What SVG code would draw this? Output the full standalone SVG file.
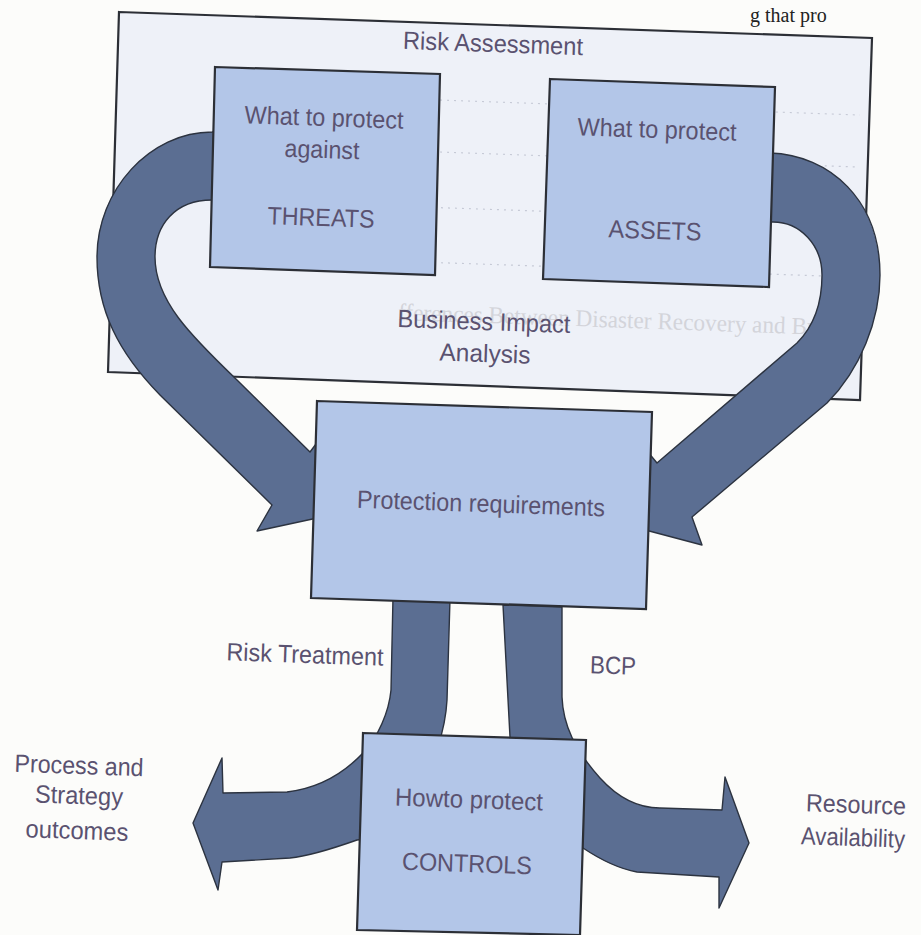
<svg xmlns="http://www.w3.org/2000/svg" width="921" height="935" viewBox="0 0 921 935">
  <style>
    .page { fill: #fcfcfa; }
    .outer { fill: #eef1f8; stroke: #2c2f36; stroke-width: 2.2; }
    .box { fill: #b3c6e8; stroke: #2c2f36; stroke-width: 2.2; }
    .band { fill: #5b6e92; stroke: #2c3340; stroke-width: 1.4; stroke-linejoin: round; }
    .t { font-family: "Liberation Sans", Arial, sans-serif; font-size: 25px; fill: #5a5270; text-anchor: middle; }
    .ghost { font-family: "Liberation Serif", "Times New Roman", serif; font-size: 24px; fill: #d3d4da; }
    .print { font-family: "Liberation Serif", "Times New Roman", serif; font-size: 20px; fill: #222; }
    .dots { stroke: #c6cad6; stroke-width: 1.2; stroke-dasharray: 2 5; fill: none; }
  </style>

  <rect class="page" x="0" y="0" width="921" height="935"/>
  <text class="print" x="750" y="22">g that pro</text>

  <g id="node-risk-assessment">
    <polygon class="outer" points="119,12 872,38 860,400 108,372"/>
    <g>
      <line class="dots" x1="440" y1="100" x2="860" y2="115"/>
      <line class="dots" x1="440" y1="152" x2="858" y2="167"/>
      <line class="dots" x1="420" y1="207" x2="856" y2="222"/>
      <line class="dots" x1="420" y1="262" x2="854" y2="277"/>
    </g>
    <text class="ghost" x="398" y="328" textLength="467" lengthAdjust="spacingAndGlyphs" transform="rotate(2 630 322)">fferences Between Disaster Recovery and Busines</text>
    <text class="t" x="493" y="52" textLength="180" lengthAdjust="spacingAndGlyphs" transform="rotate(2 493 45)">Risk Assessment</text>
    <text class="t" x="484" y="330" textLength="173" lengthAdjust="spacingAndGlyphs" transform="rotate(2 484 322)">Business Impact</text>
    <text class="t" x="485" y="362" textLength="91" lengthAdjust="spacingAndGlyphs" transform="rotate(2 485 355)">Analysis</text>
  </g>

  <g id="connectors">
    <path id="arrow-threats" class="band" d="M 232,131 L 212,132 C 150,132 97,190 97,257 C 97,310 118,352 160,395 L 272,505 L 257,531 L 345,512 L 328,428 L 310,452 L 237,380 C 190,335 155,300 155,257 C 155,225 175,200 212,200 L 232,200 Z"/>
    <path id="arrow-assets" class="band" d="M 752,153 L 770,153 C 830,155 880,200 880,275 C 880,320 860,370 827,403 L 692,517 L 702,545 L 619,523 L 638,440 L 657,463 L 797,343 C 815,325 822,300 822,275 C 822,245 800,222 773,222 L 752,222 Z"/>
    <path id="arrow-risk-treatment" class="band" d="M 393,597 L 450,599 L 447,700 C 444,760 400,840 357,840 C 340,846 310,856 290,858 L 222,862 L 218,890 L 193,823 L 222,758 L 223,793 L 287,792 C 320,788 345,772 363,753 C 378,737 389,712 391,690 Z"/>
    <path id="arrow-bcp" class="band" d="M 503,605 L 562,607 L 562,697 C 563,725 575,750 600,778 C 620,800 640,808 660,808 L 722,810 L 725,777 L 749,843 L 719,908 L 719,877 L 637,872 C 615,868 598,858 583,848 C 560,835 512,800 510,737 Z"/>
    <text class="t" x="305" y="663" textLength="157" lengthAdjust="spacingAndGlyphs" transform="rotate(2 305 655)">Risk Treatment</text>
    <text class="t" x="613" y="674" textLength="46" lengthAdjust="spacingAndGlyphs" transform="rotate(2 613 666)">BCP</text>
    <text class="t" x="79" y="774" textLength="129" lengthAdjust="spacingAndGlyphs" transform="rotate(2 79 766)">Process and</text>
    <text class="t" x="79" y="804" textLength="88" lengthAdjust="spacingAndGlyphs" transform="rotate(2 79 796)">Strategy</text>
    <text class="t" x="77" y="839" textLength="103" lengthAdjust="spacingAndGlyphs" transform="rotate(2 77 831)">outcomes</text>
    <text class="t" x="856" y="813" textLength="100" lengthAdjust="spacingAndGlyphs" transform="rotate(2 856 805)">Resource</text>
    <text class="t" x="853" y="846" textLength="104" lengthAdjust="spacingAndGlyphs" transform="rotate(2 853 838)">Availability</text>
  </g>

  <g id="node-threats">
    <polygon class="box" points="215,67 440,74 435,275 210,267"/>
    <text class="t" x="324" y="126" textLength="159" lengthAdjust="spacingAndGlyphs" transform="rotate(2 324 118)">What to protect</text>
    <text class="t" x="322" y="158" textLength="75" lengthAdjust="spacingAndGlyphs" transform="rotate(2 322 150)">against</text>
    <text class="t" x="321" y="226" textLength="107" lengthAdjust="spacingAndGlyphs" transform="rotate(2 321 218)">THREATS</text>
  </g>

  <g id="node-assets">
    <polygon class="box" points="550,79 775,87 769,287 543,279"/>
    <text class="t" x="657" y="138" textLength="159" lengthAdjust="spacingAndGlyphs" transform="rotate(2 657 130)">What to protect</text>
    <text class="t" x="655" y="239" textLength="93" lengthAdjust="spacingAndGlyphs" transform="rotate(2 655 231)">ASSETS</text>
  </g>

  <g id="node-protection">
    <polygon class="box" points="317,401 652,412 646,609 311,598"/>
    <text class="t" x="481" y="512" textLength="248" lengthAdjust="spacingAndGlyphs" transform="rotate(2 481 504)">Protection requirements</text>
  </g>

  <g id="node-controls">
    <polygon class="box" points="363,733 586,740 580,935 357,930"/>
    <text class="t" x="469" y="808" textLength="148" lengthAdjust="spacingAndGlyphs" transform="rotate(2 469 800)">Howto protect</text>
    <text class="t" x="467" y="872" textLength="130" lengthAdjust="spacingAndGlyphs" transform="rotate(2 467 864)">CONTROLS</text>
  </g>
</svg>
